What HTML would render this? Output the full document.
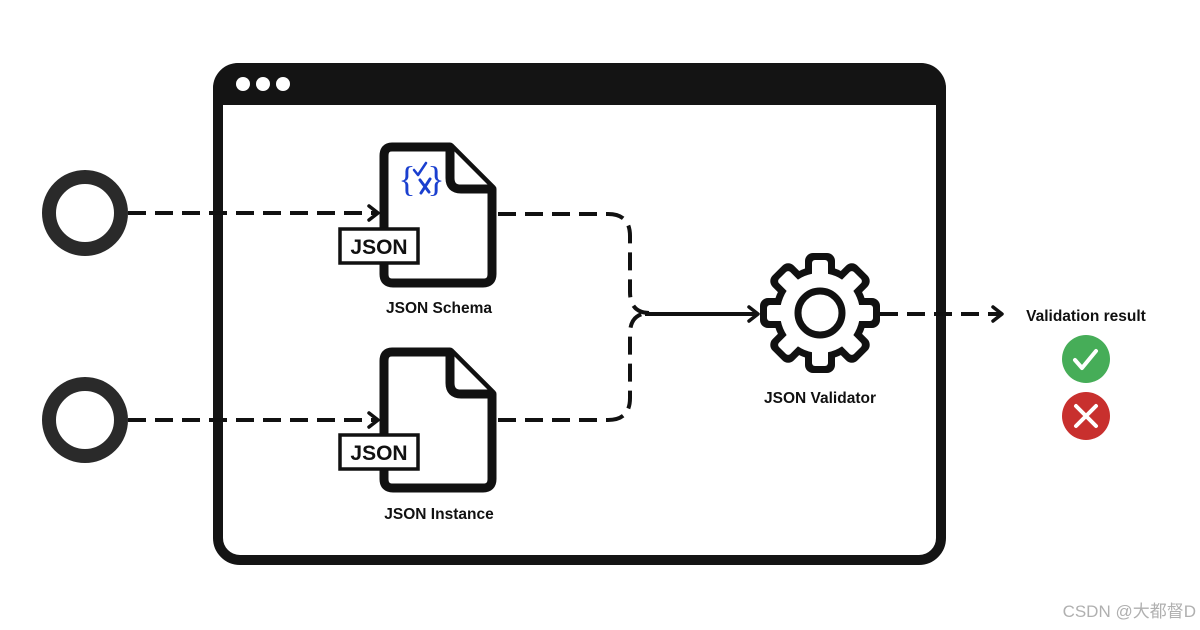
<!DOCTYPE html>
<html><head><meta charset="utf-8"><style>
html,body{margin:0;padding:0;background:#fff;}
svg{display:block}
text{font-family:"Liberation Sans",sans-serif;font-weight:bold;fill:#111}
</style></head><body>
<svg width="1200" height="630" viewBox="0 0 1200 630" xmlns="http://www.w3.org/2000/svg">
<defs>
<marker id="ah" markerWidth="14" markerHeight="18" refX="11" refY="9" orient="auto" markerUnits="userSpaceOnUse">
<path d="M2,2 L11,9 L2,16" fill="none" stroke="#111" stroke-width="3.5" stroke-linecap="round" stroke-linejoin="round"/>
</marker>
</defs>
<rect x="218" y="68" width="723" height="492" rx="22" fill="none" stroke="#141414" stroke-width="10"/>
<path d="M213,105 V88 A25,25 0 0 1 238,63 H921 A25,25 0 0 1 946,88 V105 Z" fill="#141414"/>
<circle cx="243" cy="84" r="7" fill="#fff"/>
<circle cx="263" cy="84" r="7" fill="#fff"/>
<circle cx="283" cy="84" r="7" fill="#fff"/>
<circle cx="85" cy="213" r="36" fill="none" stroke="#2a2a2a" stroke-width="14"/>
<circle cx="85" cy="420" r="36" fill="none" stroke="#2a2a2a" stroke-width="14"/>
<g fill="none" stroke="#111" stroke-width="4" stroke-dasharray="18,9">
<path d="M128,213 H378" marker-end="url(#ah)"/>
<path d="M128,420 H378" marker-end="url(#ah)"/>
<path d="M498,214 H608 Q630,214 630,236 V292 Q630,313 650,313"/>
<path d="M498,420 H608 Q630,420 630,398 V334 Q630,313 650,313"/>
<path d="M880,314 H1002" marker-end="url(#ah)"/>
</g>
<path d="M645,314 H758" fill="none" stroke="#111" stroke-width="4" marker-end="url(#ah)"/>
<g fill="#fff" stroke="#111" stroke-width="9" stroke-linejoin="round">
<path d="M392,147 H450 L492,189 V274 Q492,283 483,283 H393 Q384,283 384,274 V156 Q384,147 392,147 Z"/>
<path d="M450,147 V178 Q450,189 461,189 H492" />
<path d="M392,352 H450 L492,394 V479 Q492,488 483,488 H393 Q384,488 384,479 V361 Q384,352 392,352 Z"/>
<path d="M450,352 V383 Q450,394 461,394 H492" />
</g>
<g fill="#fff" stroke="#111" stroke-width="3.5">
<rect x="340" y="229" width="78" height="34"/>
<rect x="340" y="435" width="78" height="34"/>
</g>
<text x="379" y="254" font-size="21" text-anchor="middle">JSON</text>
<text x="379" y="460" font-size="21" text-anchor="middle">JSON</text>
<text x="407" y="191" font-size="36" style="fill:#1a3fcf;font-weight:normal;font-family:'Liberation Serif',serif" text-anchor="middle">{</text>
<text x="436" y="191" font-size="36" style="fill:#1a3fcf;font-weight:normal;font-family:'Liberation Serif',serif" text-anchor="middle">}</text>
<path d="M414,170 l4,5 l8,-12" fill="none" stroke="#1a3fcf" stroke-width="2.5" stroke-linecap="round" stroke-linejoin="round"/>
<path d="M420,180 l9,12 M430,179 l-9,14" fill="none" stroke="#1a3fcf" stroke-width="3" stroke-linecap="round"/>
<text x="439" y="313" font-size="15.5" text-anchor="middle">JSON Schema</text>
<text x="439" y="519" font-size="15.5" text-anchor="middle">JSON Instance</text>
<g transform="translate(820,313)">
<g fill="#111">
<circle r="47"/>
<g id="t"><rect x="-15" y="-60" width="30" height="30" rx="8"/></g>
<use href="#t" transform="rotate(45)"/><use href="#t" transform="rotate(90)"/><use href="#t" transform="rotate(135)"/>
<use href="#t" transform="rotate(180)"/><use href="#t" transform="rotate(225)"/><use href="#t" transform="rotate(270)"/><use href="#t" transform="rotate(315)"/>
</g>
<g fill="#fff">
<circle r="40"/>
<g id="w"><rect x="-8" y="-53" width="16" height="24" rx="3"/></g>
<use href="#w" transform="rotate(45)"/><use href="#w" transform="rotate(90)"/><use href="#w" transform="rotate(135)"/>
<use href="#w" transform="rotate(180)"/><use href="#w" transform="rotate(225)"/><use href="#w" transform="rotate(270)"/><use href="#w" transform="rotate(315)"/>
</g>
<circle r="22" fill="none" stroke="#111" stroke-width="7"/>
</g>
<text x="820" y="403" font-size="15.5" text-anchor="middle">JSON Validator</text>
<text x="1086" y="321" font-size="15.5" text-anchor="middle">Validation result</text>
<circle cx="1086" cy="359" r="24" fill="#46ad58"/>
<path d="M1075,360 l7,8 l14,-17" fill="none" stroke="#fff" stroke-width="4" stroke-linecap="round" stroke-linejoin="round"/>
<circle cx="1086" cy="416" r="24" fill="#c8302e"/>
<path d="M1076,406 l20,20 M1096,406 l-20,20" stroke="#fff" stroke-width="4" stroke-linecap="round"/>
<text x="1196" y="617" font-size="17" text-anchor="end" style="fill:#b0b0b0;font-weight:normal;font-family:'Liberation Sans','Noto Sans CJK SC',sans-serif">CSDN @大都督D</text>
</svg>
</body></html>
